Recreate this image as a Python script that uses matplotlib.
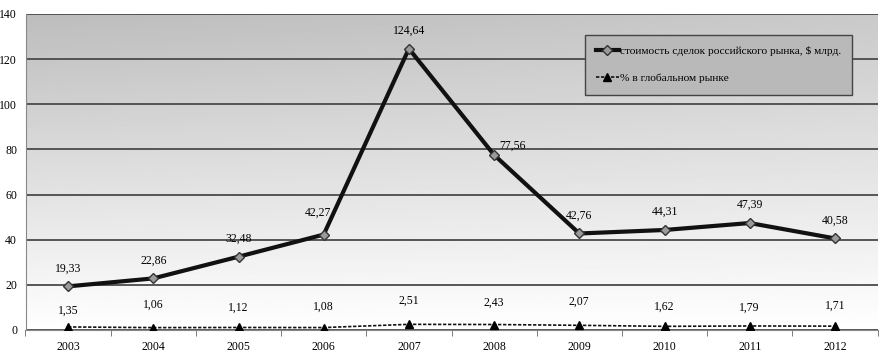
import matplotlib.pyplot as plt
import numpy as np

plt.rcParams['font.family'] = ['Liberation Serif', 'DejaVu Serif']

# data
years = ['2003', '2004', '2005', '2006', '2007', '2008', '2009', '2010', '2011', '2012']
deals = [19.33, 22.86, 32.48, 42.27, 124.64, 77.56, 42.76, 44.31, 47.39, 40.58]
share = [1.35, 1.06, 1.12, 1.08, 2.51, 2.43, 2.07, 1.62, 1.79, 1.71]
deal_labels = ['19,33', '22,86', '32,48', '42,27', '124,64', '77,56', '42,76', '44,31', '47,39', '40,58']
share_labels = ['1,35', '1,06', '1,12', '1,08', '2,51', '2,43', '2,07', '1,62', '1,79', '1,71']

fig = plt.figure(figsize=(8.85, 3.62), dpi=100)
ax = fig.add_axes([25.5 / 885, 32 / 362, 852 / 885, 316 / 362])

x = np.arange(len(years))

# gradient background (grey top-left to white bottom)
ny, nx = 200, 200
gy = np.linspace(1, 0, ny)[:, None]
gx = np.linspace(0, 1, nx)[None, :]
shade = 0.74 + 0.26 * (1 - gy) + 0.05 * gx * gy
shade = np.clip(shade, 0, 1)
ax.imshow(shade, cmap='gray', vmin=0, vmax=1, extent=[0, 1, 0, 1],
          transform=ax.transAxes, aspect='auto', zorder=0)

ax.set_xlim(-0.5, len(years) - 0.5)
ax.set_ylim(0, 140)
ax.set_yticks(range(0, 141, 20))
ax.yaxis.grid(True, color='#4a4a4a', linewidth=1.3, zorder=1)
ax.set_axisbelow(True)

ax.plot(x, deals, color='#111111', linewidth=3, marker='D', markersize=5,
        markerfacecolor='#9a9a9a', markeredgecolor='#333333', markeredgewidth=1,
        label='стоимость сделок российского рынка, $ млрд.', zorder=4)
ax.plot(x, share, color='#111111', linewidth=1.2, linestyle=(0, (2, 1)), marker='^',
        markersize=6, markerfacecolor='black', markeredgecolor='black',
        label='% в глобальном рынке', zorder=4)

for i, lab in enumerate(deal_labels):
    dx, dy = 0, 18
    if i == 3:
        dx, dy = -6, 22
    if i == 5:
        dx, dy = 18, 9
    ax.annotate(lab, (x[i], deals[i]), xytext=(dx, dy), textcoords='offset pixels',
                ha='center', va='center', fontsize=8.5, zorder=5)
share_dy = [16, 23, 20, 21, 24, 22, 24, 20, 18, 20]
for i, lab in enumerate(share_labels):
    ax.annotate(lab, (x[i], share[i]), xytext=(0, share_dy[i]), textcoords='offset pixels',
                ha='center', va='center', fontsize=8.5, zorder=5)

ax.set_xticks(x)
ax.set_xticklabels(years)
ax.set_xticks(np.arange(-0.5, len(years), 1), minor=True)
ax.tick_params(axis='x', which='major', length=0, labelsize=8.5, pad=8)
ax.tick_params(axis='x', which='minor', length=4, color='#666666', direction='out')
ax.tick_params(axis='y', length=0, labelsize=8.5, pad=6)

for s in ['top', 'right']:
    ax.spines[s].set_visible(False)
ax.spines['left'].set_color('#888888')
ax.spines['bottom'].set_color('#888888')

leg = ax.legend(loc='upper left', bbox_to_anchor=(559 / 852, (330 - 35) / 316),
                fontsize=8.2, frameon=True, fancybox=False, labelspacing=1.5,
                handlelength=2.0, handletextpad=0.1, borderpad=1.0, borderaxespad=0)
leg.get_frame().set_facecolor('#b9b9b9')
leg.get_frame().set_edgecolor('#444444')
leg.get_frame().set_alpha(1)

plt.savefig('out.png', dpi=100)
